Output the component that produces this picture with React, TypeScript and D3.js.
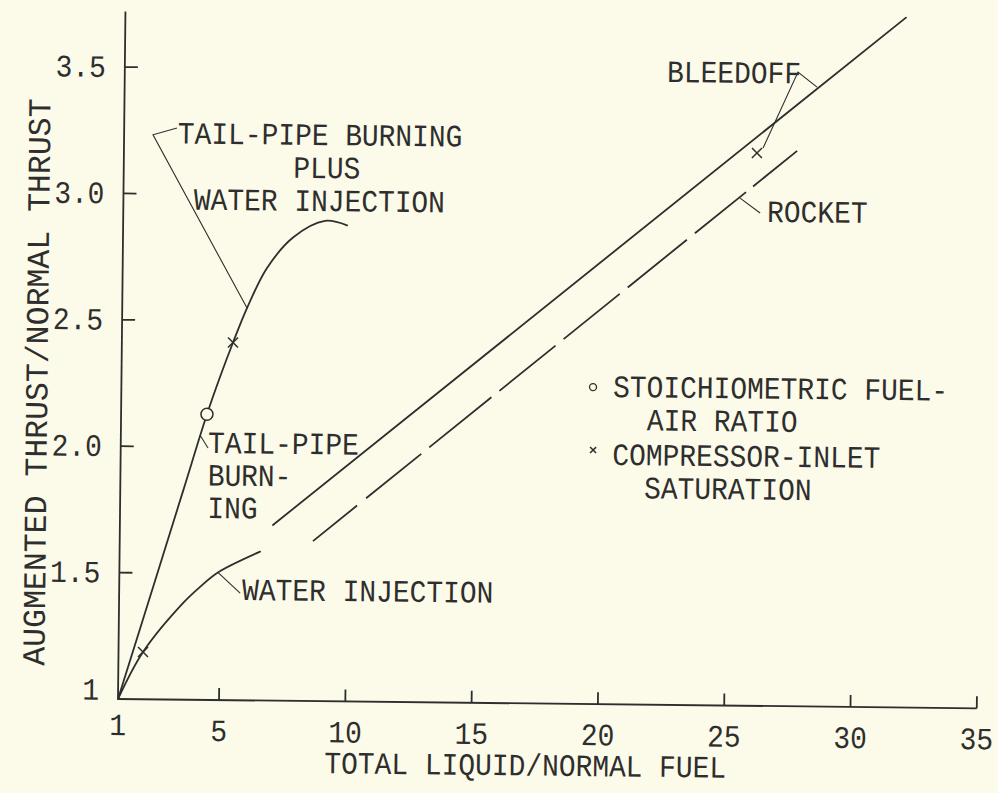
import React from "react";
import * as d3 from "d3";

// ---------- data ----------
const xTicks = [1, 5, 10, 15, 20, 25, 30, 35];
const xTickLabels = ["1", "5", "10", "15", "20", "25", "30", "35"];
const yTicks = [1, 1.5, 2, 2.5, 3, 3.5];
const yTickLabels = ["1", "1.5", "2.0", "2.5", "3.0", "3.5"];

// tail-pipe burning (to stoichiometric) continuing as tail-pipe burning plus water injection
const tailPipeX = [1, 2.5, 3.5, 4.4, 4.9, 5.4, 5.94, 6.715, 7.731, 8.99, 9.864];
const tailPipeY = [1, 1.497, 1.83, 2.13, 2.278, 2.415, 2.552, 2.711, 2.833, 2.9, 2.883];

const waterX = [1, 1.97, 3.53, 4.2, 4.9, 6.56];
const waterY = [1, 1.187, 1.382, 1.447, 1.505, 1.589];

const bleedoffX = [7.06, 31.9];
const bleedoffY = [1.695, 3.729];

const rocketX = [8.65, 27.65];
const rocketY = [1.633, 3.197];

const stoichX = [4.4];
const stoichY = [2.13];

const saturationX = [1.97, 5.4, 26.06];
const saturationY = [1.187, 2.415, 3.187];

// ---------- layout ----------
const W = 998;
const H = 793;
const X0 = 118;
const Y0 = 699;
const ROT = 0.62; // scan tilt

const x = d3.scaleLinear().domain([1, 35]).range([X0, X0 + 34 * 25.26]);
const y = d3.scaleLinear().domain([1, 3.5]).range([Y0, Y0 - 2.5 * 252.8]);

const INK = "#2e2e2e";
const BG = "#fcfae8";
const FONT = "'Liberation Mono', 'DejaVu Sans Mono', monospace";

type TProps = {
  px: number;
  py: number;
  anchor?: "start" | "middle" | "end";
  size?: number;
  sx?: number;
  rot?: number;
  children: React.ReactNode;
};

const T = ({ px, py, anchor = "start", size = 31, sx = 0.9, rot = 0, children }: TProps) => (
  <text
    transform={`translate(${px},${py}) rotate(${rot}) scale(${sx},1)`}
    textAnchor={anchor}
    fontSize={size}
    fontFamily={FONT}
    fill={INK}
  >
    {children}
  </text>
);

const XMark = ({ cx, cy, s }: { cx: number; cy: number; s: number }) => (
  <g stroke={INK} strokeWidth={1.5}>
    <line x1={cx - s} y1={cy - s} x2={cx + s} y2={cy + s} />
    <line x1={cx - s} y1={cy + s} x2={cx + s} y2={cy - s} />
  </g>
);

const poly = (pts: [number, number][]) =>
  pts.map((p, i) => `${i ? "L" : "M"}${x(p[0])},${y(p[1])}`).join("");

export default function App() {
  const mk = (xs: number[], ys: number[]) =>
    d3
      .line<number>()
      .x((d) => x(d))
      .y((_, i) => y(ys[i]))
      .curve(d3.curveCatmullRom.alpha(0.5))(xs) || "";

  const tailPath = mk(tailPipeX, tailPipeY);
  const waterPath = mk(waterX, waterY);

  const rocketDash = "44 9 55 8 62 8 56 8 56 8 59 8 51 7 44";

  const yTop = 3.72;

  return (
    <svg
      width={W}
      height={H}
      style={{ position: "absolute", left: 0, top: 0, display: "block" }}
    >
      <rect x={0} y={0} width={W} height={H} fill={BG} />
      <g transform={`rotate(${ROT},${X0},${Y0})`}>
        {/* axes */}
        <g stroke={INK} strokeWidth={1.8} fill="none">
          <line x1={x(1)} y1={y(1)} x2={x(35)} y2={y(1)} />
          <line x1={x(1)} y1={y(1)} x2={x(1)} y2={y(yTop)} />
          {xTicks.slice(1).map((t) => (
            <line key={t} x1={x(t)} y1={y(1)} x2={x(t)} y2={y(1) - 12} />
          ))}
          {yTicks.slice(1).map((t) => (
            <line key={t} x1={x(1)} y1={y(t)} x2={x(1) + 13} y2={y(t)} />
          ))}
        </g>
        {xTicks.map((t, i) => (
          <T key={t} px={x(t)} py={y(1) + (i === 0 ? 36 : 41)} anchor="middle">
            {xTickLabels[i]}
          </T>
        ))}
        {yTicks.map((t, i) => (
          <T key={t} px={x(1) - 19} py={y(t) + (i === 0 ? 1 : 10)} anchor="end">
            {yTickLabels[i]}
          </T>
        ))}
        <T px={526} py={771} anchor="middle">
          TOTAL LIQUID/NORMAL FUEL
        </T>
        <T px={44} py={383} anchor="middle" rot={-90} size={32} sx={0.985}>
          AUGMENTED THRUST/NORMAL THRUST
        </T>

        {/* curves */}
        <g stroke={INK} strokeWidth={1.8} fill="none" strokeLinecap="round">
          <path d={tailPath} />
          <path d={waterPath} />
          <line
            x1={x(bleedoffX[0])}
            y1={y(bleedoffY[0])}
            x2={x(bleedoffX[1])}
            y2={y(bleedoffY[1])}
          />
          <line
            x1={x(rocketX[0])}
            y1={y(rocketY[0])}
            x2={x(rocketX[1])}
            y2={y(rocketY[1])}
            pathLength={483}
            strokeDasharray={rocketDash}
            strokeLinecap="butt"
          />
        </g>

        {/* markers */}
        {stoichX.map((v, i) => (
          <circle
            key={i}
            cx={x(v)}
            cy={y(stoichY[i])}
            r={6}
            fill={BG}
            stroke={INK}
            strokeWidth={1.5}
          />
        ))}
        {saturationX.map((v, i) => (
          <XMark key={i} cx={x(v)} cy={y(saturationY[i])} s={5} />
        ))}

        {/* leaders */}
        <g stroke={INK} strokeWidth={1.1} fill="none">
          <path d={poly([[3.09, 3.261], [2.144, 3.233], [5.94, 2.552]])} />
          <path d={poly([[4.13, 2.048], [4.456, 1.997]])} />
          <path d={poly([[4.9, 1.505], [5.79, 1.424]])} />
          <path d={poly([[28.41, 3.45], [27.65, 3.509], [26.3, 3.207]])} />
          <path d={poly([[25.41, 3.008], [26.21, 2.95]])} />
        </g>

        {/* annotations */}
        <T px={x(8.76)} py={y(3.2)} anchor="middle">TAIL-PIPE BURNING</T>
        <T px={x(8.76) + 7} py={y(3.2) + 33} anchor="middle">PLUS</T>
        <T px={x(8.76)} py={y(3.2) + 66} anchor="middle">WATER INJECTION</T>

        <T px={x(4.457)} py={y(1.977)}>TAIL-PIPE</T>
        <T px={x(4.457)} py={y(1.977) + 32.5}>BURN-</T>
        <T px={x(4.457)} py={y(1.977) + 65}>ING</T>

        <T px={x(5.87)} py={y(1.397)}>WATER INJECTION</T>
        <T px={x(22.47)} py={y(3.464)}>BLEEDOFF</T>
        <T px={x(26.49)} py={y(2.915)}>ROCKET</T>

        {/* legend */}
        <circle cx={x(19.67)} cy={y(2.254)} r={3.5} fill="none" stroke={INK} strokeWidth={1.3} />
        <XMark cx={x(19.7)} cy={y(2.005)} s={3} />
        <T px={x(20.47)} py={y(2.216)}>STOICHIOMETRIC FUEL-</T>
        <T px={x(20.47) + 34} py={y(2.216) + 33}>AIR RATIO</T>
        <T px={x(20.47)} py={y(2.216) + 68}>COMPRESSOR-INLET</T>
        <T px={x(20.47) + 32} py={y(2.216) + 101}>SATURATION</T>
      </g>
    </svg>
  );
}
